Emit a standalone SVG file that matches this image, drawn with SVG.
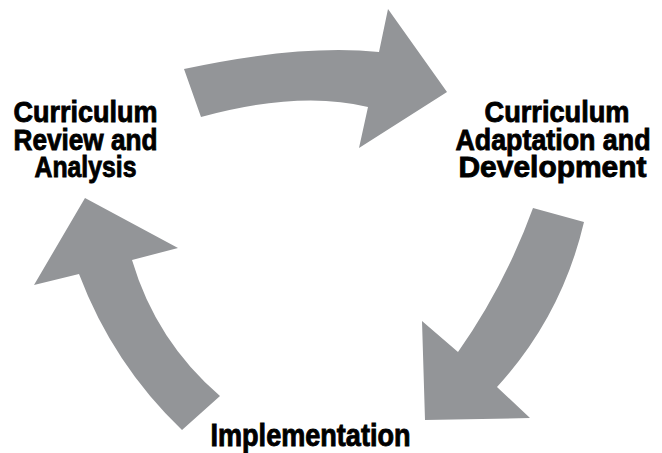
<svg xmlns="http://www.w3.org/2000/svg" width="662" height="453" viewBox="0 0 662 453">
<style>
.arrow{fill:#939598;stroke:none}
.lbl{font-family:"Liberation Sans Narrow","Liberation Sans",Arial,sans-serif;font-weight:bold;font-size:30px;fill:#000;stroke:#000;stroke-width:0.9px;text-anchor:middle}
.big{font-size:31px}
</style>
<rect width="662" height="453" fill="#fff"/>
<g id="connectors">
<path id="arrow-top" class="arrow" d="M184,69 Q300,44 379,52 L388,9 L447,92 L359,148 L368,107 Q300,90 201,117 Z"/>
<path id="arrow-right" class="arrow" d="M533,208 L584,222 Q562,316 497,387 L530,418 L425,420 L422,321 L458,352 Q505,285 533,208 Z"/>
<path id="arrow-left" class="arrow" d="M182,430 L220,396 Q156,341 132,260 L178,248 L85,198 L34,285 L79,274 Q113,364 182,430 Z"/>
</g>
<g id="node-review">
<text class="lbl" x="85.5" y="122" textLength="144" lengthAdjust="spacingAndGlyphs">Curriculum</text>
<text class="lbl" x="85.5" y="149.5" textLength="144" lengthAdjust="spacingAndGlyphs">Review and</text>
<text class="lbl" x="85.5" y="177" textLength="102" lengthAdjust="spacingAndGlyphs">Analysis</text>
</g>
<g id="node-adaptation">
<text class="lbl" x="557" y="122" textLength="145" lengthAdjust="spacingAndGlyphs">Curriculum</text>
<text class="lbl" x="553" y="149.5" textLength="195" lengthAdjust="spacingAndGlyphs">Adaptation and</text>
<text class="lbl" x="552.5" y="177" textLength="188" lengthAdjust="spacingAndGlyphs">Development</text>
</g>
<g id="node-implementation">
<text class="lbl big" x="310.5" y="446" textLength="200" lengthAdjust="spacingAndGlyphs">Implementation</text>
</g>
</svg>
